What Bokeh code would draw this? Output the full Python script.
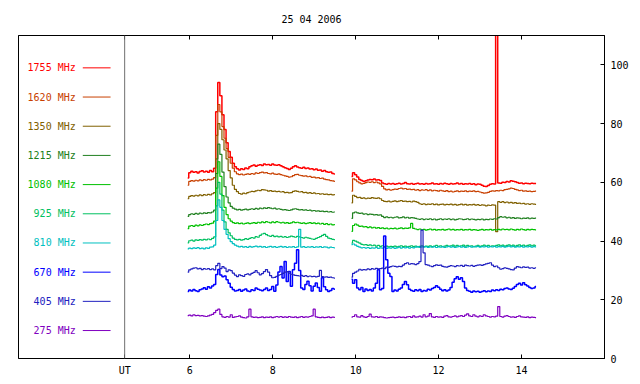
import math
from bokeh.plotting import figure
from bokeh.models import Range1d, LinearAxis, FixedTicker, Span, ColumnDataSource
from bokeh.embed import file_html
from bokeh.resources import INLINE
from bokeh.core.properties import value

TITLE = "25 04 2006"
LABELS = ["1755 MHz", "1620 MHz", "1350 MHz", "1215 MHz", "1080 MHz",
          "925 MHz", "810 MHz", "670 MHz", "405 MHz", "275 MHz"]
COLORS = ["#ff0000", "#c84000", "#806000", "#208020", "#00c000",
          "#00c060", "#00c0c0", "#0000ff", "#2020c0", "#8000c0"]
X_TICKS = [4.43, 6, 8, 10, 12, 14]
X_TICK_NAMES = {4.43: "UT"}
Y_TICKS = [0, 20, 40, 60, 80, 100]

# sampling times (UT hours) of the two observing blocks
T_A = [round(5.95 + 0.05 * i, 2) for i in range(72)]
T_B = [round(9.90 + 0.05 * j, 2) for j in range(90)]
T_GAP = 9.7

S1755_A = [61.5, 63.3, 63.8, 63.4, 63.6, 63.2, 63.7, 63.9, 63.5, 63.8,
           63.4, 64.0, 63.6, 64.8, 84.0, 94.0, 89.5, 83.0, 78.0, 73.5,
           70.5, 68.5, 66.5, 65.3, 64.6, 64.2, 64.6, 64.4, 64.9, 64.6,
           65.3, 65.6, 65.9, 65.5, 65.8, 66.0, 65.7, 66.2, 66.0, 66.1,
           65.8, 66.2, 65.9, 65.8, 66.0, 65.6, 65.3, 65.0, 64.7, 64.4,
           64.8, 65.3, 65.6, 65.2, 65.0, 64.8, 65.1, 64.7, 64.9, 64.5,
           64.6, 64.3, 64.5, 64.1, 64.2, 63.8, 64.0, 63.6, 63.4, 63.5,
           63.0, 62.8]
S1755_B = [62.0, 63.3, 62.6, 61.8, 61.0, 60.6, 60.3, 60.5, 60.8, 61.0,
           60.9, 61.1, 60.8, 60.9, 60.6, 59.8, 59.5, 59.3, 59.6, 59.4,
           59.6, 59.3, 59.5, 59.7, 59.4, 59.6, 59.9, 59.5, 59.4, 59.6,
           59.3, 59.5, 59.7, 59.4, 59.5, 59.3, 59.6, 59.4, 59.5, 59.8,
           59.4, 59.5, 59.3, 59.6, 59.4, 59.7, 59.5, 59.3, 59.6, 59.4,
           59.5, 59.8, 59.4, 59.6, 59.3, 59.5, 59.4, 59.6, 59.3, 59.5,
           59.2, 59.4, 59.3, 59.0, 58.7, 58.6, 58.9, 59.3, 59.5, 59.4,
           115.0, 59.8, 59.7, 60.0, 59.9, 60.3, 60.1, 60.5, 60.4, 60.2,
           59.9, 59.7, 59.8, 59.5, 59.7, 59.6, 59.5, 59.7, 59.6, 59.6]

S1620_A = [59.0, 60.3, 60.6, 60.4, 60.7, 60.5, 60.8, 60.6, 60.9, 60.7,
           61.0, 60.8, 61.1, 61.6, 76.0, 86.5, 84.0, 79.0, 75.0, 71.5,
           68.5, 66.5, 64.8, 63.6, 62.9, 62.6, 62.8, 62.5, 62.7, 62.9,
           62.7, 63.0, 62.8, 63.2, 63.0, 63.3, 63.5, 63.2, 63.3, 63.0,
           62.9, 63.1, 62.8, 62.7, 62.9, 62.6, 62.4, 62.2, 62.0, 61.8,
           61.9, 62.3, 62.6, 62.7, 62.4, 62.3, 62.1, 62.2, 61.9, 62.0,
           61.7, 61.8, 61.5, 61.6, 61.3, 61.4, 61.1, 60.9, 60.8, 60.6,
           60.5, 60.3]
S1620_B = [57.0, 61.2, 60.8, 60.2, 59.8, 59.5, 59.6, 59.9, 60.1, 60.0,
           60.2, 59.9, 60.1, 59.8, 59.5, 58.6, 57.8, 57.4, 57.6, 57.3,
           57.5, 57.7, 57.6, 57.9, 58.0, 57.8, 57.9, 57.6, 57.7, 57.5,
           57.6, 57.3, 57.5, 57.2, 57.4, 57.3, 57.5, 57.2, 57.4, 57.1,
           57.3, 57.2, 57.0, 57.3, 57.1, 56.9, 57.2, 56.8, 57.0, 56.7,
           56.9, 57.1, 56.8, 57.0, 56.9, 57.1, 56.8, 57.0, 56.9, 57.1,
           56.8, 56.9, 56.7, 56.5, 56.3, 56.4, 56.6, 56.9, 57.1, 57.0,
           57.2, 57.1, 57.3, 57.2, 57.5, 57.6, 57.8, 58.0, 57.9, 57.6,
           57.4, 57.2, 57.3, 57.0, 57.1, 56.9, 57.0, 56.8, 56.9, 57.0]

S1350_A = [54.4, 55.2, 55.5, 55.3, 55.6, 55.4, 55.7, 55.5, 55.8, 55.6,
           55.9, 55.7, 56.1, 56.5, 68.0, 80.0, 78.0, 74.5, 71.0, 68.0,
           64.0, 61.5, 59.0, 57.6, 56.8, 56.2, 56.0, 56.3, 56.1, 56.5,
           56.7, 56.9, 56.8, 57.1, 57.3, 57.2, 57.5, 57.4, 57.3, 57.0,
           57.2, 56.9, 57.0, 56.8, 56.9, 56.7, 56.8, 56.5, 56.6, 56.4,
           56.5, 56.9, 57.1, 56.9, 56.7, 56.8, 56.5, 56.6, 56.3, 56.5,
           56.2, 56.4, 56.1, 56.2, 56.0, 56.1, 55.9, 56.0, 55.8, 55.9,
           55.7, 55.8]
S1350_B = [53.0, 55.6, 55.2, 54.8, 54.9, 54.5, 54.7, 54.4, 54.6, 54.5,
           54.8, 54.6, 54.5, 54.7, 54.4, 53.8, 53.5, 53.4, 53.6, 53.3,
           53.5, 53.7, 53.4, 53.6, 53.8, 53.5, 53.6, 53.4, 53.5, 53.3,
           53.6, 53.4, 53.2, 52.7, 52.5, 52.7, 52.4, 52.6, 52.5, 52.7,
           52.4, 52.6, 52.3, 52.5, 52.6, 52.3, 52.5, 52.4, 52.6, 52.3,
           52.5, 52.2, 52.4, 52.6, 52.3, 52.5, 52.2, 52.4, 52.3, 52.5,
           52.2, 52.4, 52.1, 52.3, 52.2, 52.0, 52.2, 52.1, 52.3, 52.2,
           43.2, 53.4, 53.2, 53.4, 53.1, 53.3, 53.0, 53.2, 52.9, 53.1,
           52.8, 52.9, 52.7, 52.8, 52.6, 52.7, 52.5, 52.7, 52.6, 52.5]

S1215_A = [48.4, 49.0, 49.3, 49.1, 49.4, 49.2, 49.5, 49.3, 49.6, 49.4,
           49.7, 49.6, 49.9, 50.5, 63.0, 73.0, 69.5, 63.5, 58.5, 55.0,
           53.0, 51.8, 51.2, 50.9, 50.6, 50.8, 50.5, 50.7, 50.9, 50.6,
           50.8, 51.0, 50.8, 51.1, 50.9, 51.2, 51.0, 51.3, 51.1, 51.4,
           51.2, 51.0, 51.2, 50.9, 51.0, 50.8, 50.6, 50.7, 50.5, 50.4,
           50.6, 50.9, 51.0, 50.8, 50.6, 50.7, 50.5, 50.6, 50.4, 50.5,
           50.3, 50.4, 50.2, 50.3, 50.1, 50.2, 50.0, 50.1, 49.9, 50.0,
           49.8, 49.9]
S1215_B = [47.7, 49.6, 49.9, 49.6, 49.4, 49.5, 49.2, 49.3, 49.0, 49.2,
           49.1, 48.9, 49.0, 48.8, 48.9, 48.4, 48.0, 48.2, 48.0, 48.1,
           47.9, 48.1, 48.2, 47.9, 48.0, 48.2, 47.9, 48.1, 47.8, 48.0,
           47.9, 47.7, 47.5, 47.4, 47.6, 47.3, 47.5, 47.4, 47.6, 47.3,
           47.5, 47.2, 47.4, 47.6, 47.3, 47.5, 47.4, 47.6, 47.3, 47.5,
           47.2, 47.4, 47.6, 47.5, 47.3, 47.4, 47.6, 47.3, 47.5, 47.4,
           47.2, 47.4, 47.3, 47.5, 47.2, 47.4, 47.3, 47.5, 47.4, 47.6,
           47.5, 48.0, 48.3, 48.1, 48.2, 47.9, 48.1, 47.8, 48.0, 47.7,
           47.9, 47.8, 47.6, 47.8, 47.7, 47.9, 47.6, 47.8, 47.7, 47.8]

S1080_A = [44.2, 45.1, 45.3, 45.0, 45.4, 45.2, 45.5, 45.3, 45.6, 45.8,
           45.6, 45.9, 46.1, 46.8, 58.0, 67.0, 62.0, 55.5, 51.5, 49.0,
           47.6, 46.8, 46.3, 46.0, 46.2, 45.9, 46.1, 45.8, 46.0, 46.2,
           45.9, 46.1, 46.3, 46.0, 46.4, 46.2, 46.5, 46.3, 46.6, 46.4,
           46.2, 46.5, 46.3, 46.6, 46.4, 46.2, 46.4, 46.1, 46.3, 46.0,
           46.2, 46.5, 46.3, 46.4, 46.2, 46.0, 46.2, 45.9, 46.1, 46.3,
           46.0, 46.2, 45.9, 46.1, 45.8, 46.0, 45.7, 45.9, 45.6, 45.8,
           45.5, 45.6]
S1080_B = [43.3, 45.3, 45.8, 45.4, 45.0, 45.1, 44.8, 44.9, 44.6, 44.8,
           44.5, 44.7, 44.4, 44.6, 44.3, 44.5, 44.2, 44.4, 44.1, 44.3,
           44.2, 44.4, 44.1, 44.3, 44.5, 44.2, 44.4, 44.3, 44.5, 46.0,
           44.3, 44.1, 43.9, 44.1, 43.8, 44.0, 43.7, 43.9, 44.1, 43.8,
           44.0, 43.7, 43.9, 43.8, 44.0, 43.7, 43.9, 44.1, 43.8, 44.0,
           43.7, 43.9, 43.8, 44.0, 43.7, 43.9, 43.8, 44.0, 43.7, 43.9,
           43.8, 43.6, 43.8, 44.0, 43.7, 43.9, 43.8, 44.0, 43.7, 43.9,
           43.8, 44.0, 43.8, 44.1, 43.9, 44.0, 43.8, 44.1, 43.9, 43.7,
           44.0, 43.8, 44.1, 43.9, 43.7, 44.0, 43.8, 44.0, 43.9, 43.8]

S925_A = [39.4, 40.1, 40.3, 40.0, 40.4, 40.2, 40.5, 40.3, 40.6, 40.4,
          40.7, 40.5, 40.9, 41.4, 52.0, 60.0, 56.0, 50.5, 46.5, 44.0,
          42.8, 41.8, 41.0, 40.6, 40.4, 40.6, 40.3, 40.5, 40.8, 40.6,
          40.9, 41.2, 41.0, 41.5, 41.3, 41.9, 42.4, 42.6, 42.2, 41.8,
          41.6, 41.9, 41.5, 41.7, 41.4, 41.6, 41.3, 41.5, 41.2, 41.4,
          41.7, 41.5, 41.3, 41.6, 41.4, 41.2, 41.0, 41.3, 41.1, 40.9,
          40.7, 40.6, 40.9, 41.2, 41.5, 41.9, 42.3, 41.6, 41.0, 40.8,
          40.6, 40.5]
S925_B = [39.3, 40.2, 40.0, 39.6, 39.3, 38.9, 38.7, 38.8, 38.5, 38.7,
          38.4, 38.6, 38.3, 38.5, 38.2, 38.4, 38.1, 38.3, 38.0, 38.2,
          38.1, 38.3, 38.0, 38.2, 38.4, 38.1, 38.3, 38.0, 38.2, 38.4,
          38.1, 38.3, 38.0, 38.2, 38.4, 38.1, 38.3, 38.2, 38.4, 38.1,
          38.3, 38.5, 38.2, 38.4, 38.1, 38.3, 38.5, 38.2, 38.4, 38.6,
          38.3, 38.5, 38.2, 38.4, 38.6, 38.3, 38.5, 38.2, 38.4, 38.1,
          38.3, 38.5, 38.2, 38.4, 38.6, 38.3, 38.5, 38.2, 38.4, 38.3,
          38.5, 38.7, 38.4, 38.6, 38.3, 38.5, 38.7, 38.4, 38.6, 38.3,
          38.5, 38.7, 38.4, 38.6, 38.3, 38.5, 38.7, 38.4, 38.6, 38.4]

S810_A = [37.3, 37.6, 37.4, 37.7, 37.5, 37.8, 37.4, 37.6, 37.3, 37.7,
          37.5, 37.9, 38.0, 38.6, 47.0, 54.0, 51.5, 47.0, 44.0, 42.3,
          40.8, 39.8, 39.1, 38.6, 38.3, 38.0, 38.2, 37.9, 38.1, 37.8,
          38.2, 37.9, 38.1, 38.3, 38.0, 38.2, 37.9, 38.1, 37.8, 38.0,
          38.2, 37.9, 38.1, 37.8, 38.0, 38.2, 37.9, 38.1, 37.8, 38.0,
          37.9, 38.1, 37.8, 38.0, 44.0, 37.9, 38.1, 37.8, 38.0, 37.9,
          38.1, 37.8, 38.0, 37.9, 38.1, 37.8, 38.0, 37.9, 37.7, 37.9,
          37.8, 37.7]
S810_B = [38.8, 39.0, 38.6, 38.2, 37.9, 37.7, 37.8, 37.6, 37.8, 37.5,
          37.7, 37.6, 37.8, 37.5, 37.7, 37.6, 37.8, 37.5, 37.7, 37.6,
          37.8, 37.5, 37.7, 37.9, 37.6, 37.8, 37.7, 37.9, 37.6, 37.8,
          37.7, 37.9, 38.1, 37.8, 38.0, 37.9, 38.1, 37.8, 38.0, 37.9,
          38.1, 37.8, 38.0, 37.9, 38.1, 37.8, 38.0, 38.2, 37.9, 38.1,
          37.8, 38.0, 38.2, 37.9, 38.1, 37.8, 38.0, 38.2, 37.9, 38.1,
          38.0, 38.2, 37.9, 38.1, 38.0, 38.2, 37.9, 38.1, 38.0, 38.2,
          37.9, 38.1, 38.0, 38.2, 37.9, 38.1, 38.3, 38.0, 38.2, 37.9,
          38.1, 38.0, 38.2, 37.9, 38.1, 38.0, 38.2, 37.9, 38.1, 38.0]

S670_A = [22.8, 23.3, 23.0, 23.5, 23.1, 22.8, 23.4, 23.7, 24.1, 23.6,
          24.4, 24.0, 24.7, 25.2, 28.6, 30.3, 28.4, 27.8, 28.1, 26.8,
          25.6, 24.3, 23.5, 23.0, 23.2, 23.5, 22.9, 23.3, 23.7, 23.0,
          22.8, 23.4, 23.2, 24.0, 23.6, 23.3, 23.1, 23.5, 24.0, 23.2,
          23.5, 24.5, 22.9, 25.0, 29.5, 31.3, 27.4, 33.0, 26.2, 29.6,
          24.6, 30.2, 32.4, 37.0, 30.0, 24.0, 23.5, 25.2, 26.3, 24.8,
          23.0, 24.6, 25.7, 24.2, 22.9, 27.5, 24.4, 23.4, 22.8, 23.2,
          23.8, 23.6]
S670_B = [27.0, 25.6, 26.8, 24.0, 23.4, 24.2, 22.8, 23.7, 23.2, 23.5,
          23.0, 24.0, 25.6, 30.2, 23.4, 23.8, 41.7, 33.6, 29.0, 27.9,
          22.8, 23.3, 23.0, 23.6, 24.0, 25.2, 26.2, 25.1, 23.6, 23.2,
          22.9, 23.4, 23.1, 23.5, 22.8, 23.2, 23.0, 23.6, 23.3, 23.8,
          24.2, 24.8, 24.3, 23.6, 23.1, 23.4, 23.0, 23.3, 24.2, 26.0,
          27.2, 27.8, 27.0, 27.5, 26.2, 24.0, 23.2, 22.9, 22.6, 23.0,
          22.7, 22.9, 22.6, 22.8, 23.1, 22.7, 23.0, 22.8, 23.3, 23.1,
          23.4, 23.2, 23.6, 23.4, 23.8, 24.0, 23.7, 23.5, 23.9, 24.5,
          25.2, 25.6, 25.0, 25.8, 25.1, 24.7, 24.2, 23.8, 24.0, 24.5]

S405_A = [29.4, 30.2, 30.5, 30.8, 30.9, 30.5, 30.7, 30.3, 30.6, 30.4,
          30.6, 30.3, 30.5, 30.2, 31.6, 32.4, 30.6, 31.3, 30.8, 29.6,
          30.2, 29.9, 29.1, 28.4, 27.9, 28.5, 28.2, 28.0, 28.6, 28.8,
          28.5, 29.0, 29.3, 29.9, 29.2, 28.5, 28.9, 29.6, 30.3, 29.4,
          28.2, 27.5, 27.6, 28.0, 28.4, 28.6, 29.0, 29.4, 29.6, 29.1,
          28.7, 28.5, 28.3, 28.2, 28.1, 28.3, 28.0, 28.2, 27.9, 28.1,
          27.9, 28.0, 27.8, 28.0, 30.0, 27.9, 27.7, 27.8, 27.6, 27.7,
          27.5, 27.4]
S405_B = [27.7, 29.0, 29.4, 29.8, 30.4, 30.1, 30.3, 30.2, 30.5, 30.3,
          30.6, 30.4, 30.7, 30.5, 30.6, 30.8, 30.6, 31.1, 31.0, 31.3,
          31.5, 31.4, 31.2, 31.4, 31.3, 31.8, 32.3, 32.6, 32.1, 32.3,
          32.2, 32.0, 32.3, 33.0, 43.7, 36.0, 32.0, 31.8, 31.5, 31.3,
          31.6, 31.9, 31.7, 31.8, 31.4, 31.2, 31.1, 31.4, 31.6, 31.5,
          31.3, 31.6, 31.5, 31.7, 31.4, 31.8, 31.6, 31.5, 31.7, 31.4,
          31.6, 31.8, 31.9, 31.7, 32.0, 32.2, 32.4, 32.6, 31.8, 31.3,
          31.5, 30.9, 30.4, 30.6, 30.9, 30.7, 30.5, 30.3, 30.2, 30.8,
          31.3, 31.1, 30.9, 31.2, 31.0, 31.1, 30.8, 30.9, 30.7, 30.9]

S275_A = [14.6, 14.8, 14.5, 14.9, 14.6, 14.7, 14.5, 14.6, 14.4, 14.3,
          14.5, 14.8, 15.0, 15.6, 16.4, 16.8, 15.0, 14.2, 14.0, 14.3,
          14.1, 14.9, 14.0, 14.2, 14.3, 14.5, 14.1, 13.9, 13.8, 14.2,
          16.8, 14.2, 14.0, 14.1, 13.9, 14.0, 14.2, 13.9, 14.1, 14.0,
          14.2, 13.9, 14.1, 14.3, 14.1, 14.3, 14.0, 14.2, 14.0, 14.3,
          14.1, 14.0, 14.2, 13.9, 14.1, 14.3, 14.0, 14.2, 14.1, 14.3,
          14.5, 16.8, 14.2, 14.0, 13.9, 14.1, 13.9, 14.0, 14.2, 13.9,
          14.1, 14.0]
S275_B = [14.1, 14.3, 14.9, 14.2, 14.1, 14.6, 14.2, 14.0, 14.3, 15.1,
          14.2, 14.1, 14.3, 14.0, 14.2, 14.1, 13.9, 13.8, 13.9, 14.0,
          14.1, 13.9, 14.0, 14.2, 14.0, 14.1, 13.9, 14.2, 14.3, 14.0,
          14.5, 14.1, 14.2, 14.4, 14.1, 14.9, 14.2, 14.4, 15.3, 14.2,
          14.0, 14.3, 14.1, 14.2, 14.0, 14.4, 14.6, 14.2, 14.1, 14.3,
          14.5, 14.2, 14.4, 14.6, 14.3, 14.8, 15.2, 14.5, 14.3, 14.9,
          14.4, 14.2, 14.5, 14.3, 14.9, 14.5, 14.3, 14.1, 14.3, 14.2,
          14.4, 17.7, 14.3, 14.1, 14.4, 14.6, 14.3, 14.1, 14.2, 14.0,
          14.3, 14.5, 14.2, 14.1, 14.0, 14.2, 13.9, 14.1, 14.0, 13.9]

SERIES = [(S1755_A, S1755_B), (S1620_A, S1620_B), (S1350_A, S1350_B),
          (S1215_A, S1215_B), (S1080_A, S1080_B), (S925_A, S925_B),
          (S810_A, S810_B), (S670_A, S670_B), (S405_A, S405_B),
          (S275_A, S275_B)]

FONT = "DejaVu Sans Mono"
FS = "10px"

p = figure(width=632, height=378, output_backend="svg", toolbar_location=None,
           x_range=Range1d(1.87, 16.0), y_range=Range1d(0, 110),
           y_axis_location="right",
           min_border_left=18, min_border_right=28,
           min_border_top=35, min_border_bottom=19)
p.background_fill_color = "white"
p.border_fill_color = "white"
p.outline_line_color = "black"
p.outline_line_width = 1
p.grid.visible = False

p.title.text = TITLE
p.title.align = "center"
p.title.text_font = FONT
p.title.text_font_size = FS
p.title.text_font_style = "normal"
p.title.text_color = "black"
p.title.standoff = 21

xa = p.xaxis[0]
xa.ticker = FixedTicker(ticks=X_TICKS)
xa.major_label_overrides = X_TICK_NAMES
ya = p.yaxis[0]
ya.ticker = FixedTicker(ticks=Y_TICKS)
top = LinearAxis(ticker=FixedTicker(ticks=X_TICKS))
top.major_label_overrides = {t: "" for t in X_TICKS}
top.major_label_standoff = 0
p.add_layout(top, "above")

for ax in (xa, ya, top):
    ax.axis_line_color = "black"
    ax.major_tick_line_color = "black"
    ax.major_tick_in = 4
    ax.major_tick_out = 0
    ax.minor_tick_line_color = None
    ax.major_label_text_font = FONT
    ax.major_label_text_font_size = FS
    ax.major_label_text_color = "black"
xa.major_label_standoff = 6
ya.major_label_standoff = 6

p.add_layout(Span(location=X_TICKS[0], dimension="height",
                  line_color="#707070", line_width=1))

time = T_A + [T_GAP] + T_B
for (a, b), col in zip(SERIES, COLORS):
    assert len(a) == len(T_A) and len(b) == len(T_B)
    vals = a + [math.nan] + b
    lw = 1.5 if col in ("#0000ff", "#ff0000") else 1.2
    p.step(time, vals, line_color=col, line_width=lw, mode="center")

# key (label on the left, sample line on the right), as in the original
leg_y = [98.98 - 9.94 * k for k in range(len(LABELS))]
leg_src = ColumnDataSource(dict(y=leg_y, label=LABELS, color=COLORS))
p.text(x=3.25, y="y", text="label", text_color="color", source=leg_src,
       text_align="right", text_baseline="middle",
       text_font=value(FONT), text_font_size=FS)
p.segment(x0=3.42, x1=4.09, y0="y", y1="y", line_color="color",
          line_width=1, source=leg_src)

open("out.html", "w").write(file_html(p, INLINE))
